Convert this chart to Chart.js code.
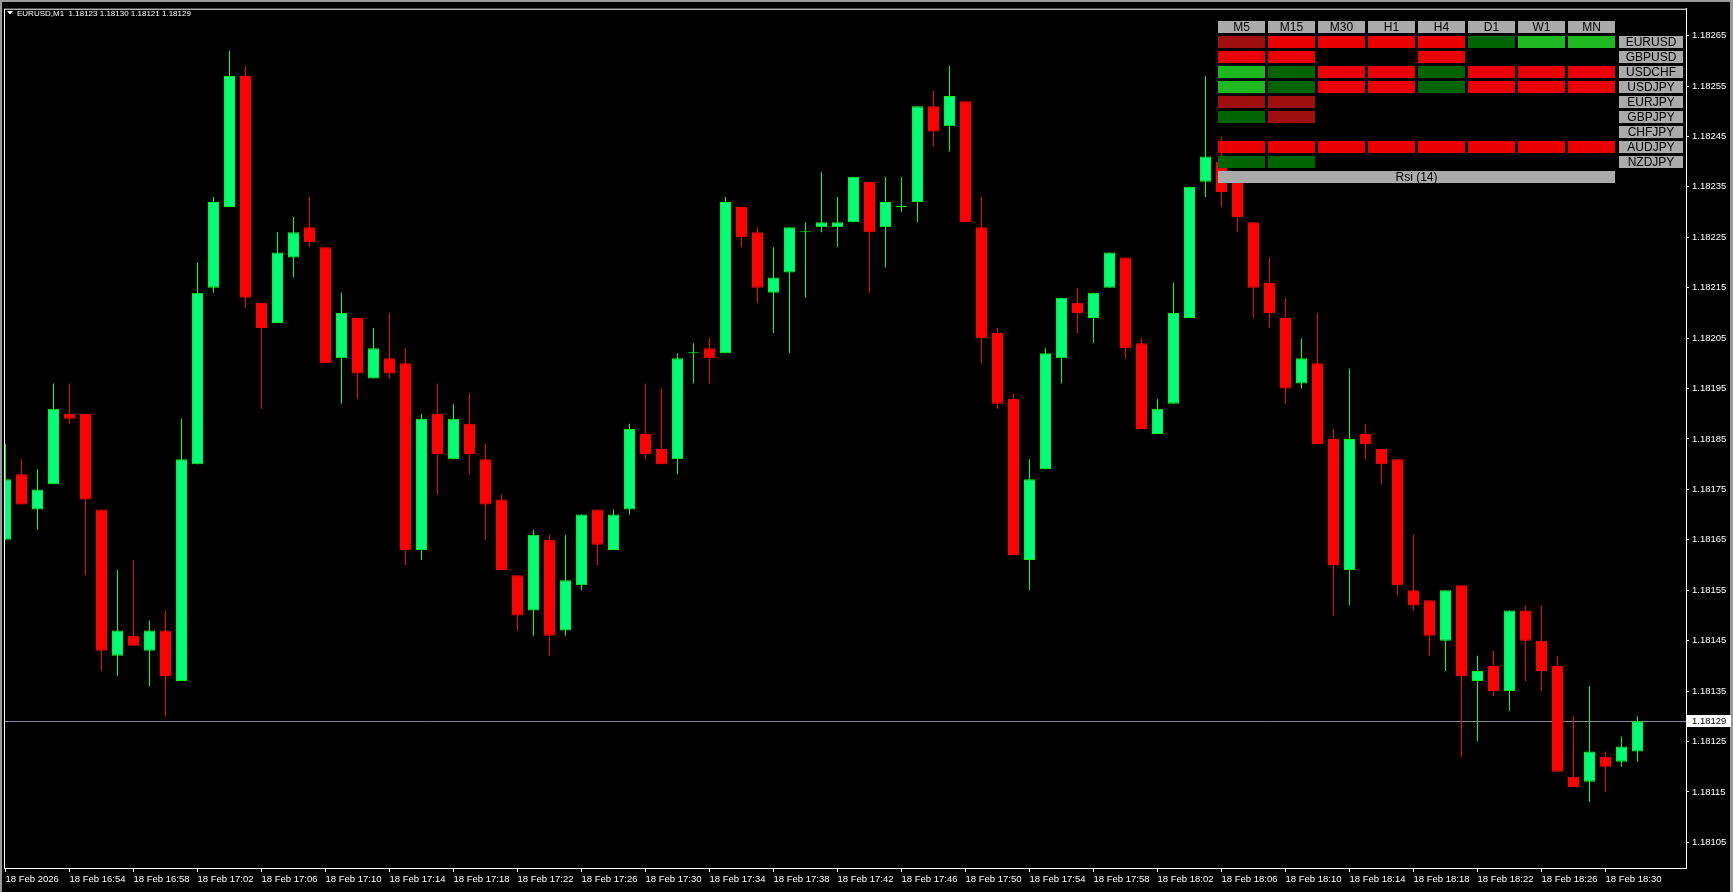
<!DOCTYPE html>
<html>
<head>
<meta charset="utf-8">
<script src="https://cdn.jsdelivr.net/npm/chart.js@4.4.1/dist/chart.umd.min.js"></script>
<style>
  html, body { margin: 0; padding: 0; background: #000; overflow: hidden; }
  canvas { display: block; }
</style>
</head>
<body>
<canvas id="chart" width="1733" height="892"></canvas>
<script>
// EURUSD M1 candles, 16:50 .. 18:32
var symbol = 'EURUSD,M1';
var opens = [
  1.18165, 1.18178, 1.18171, 1.18176, 1.18190, 1.18190, 1.18171, 1.18142, 1.18146, 1.18143,
  1.18147, 1.18137, 1.18180, 1.18215, 1.18231, 1.18257, 1.18212, 1.18208, 1.18221, 1.18227,
  1.18223, 1.18201, 1.18209, 1.18197, 1.18201, 1.18200, 1.18163, 1.18190, 1.18181, 1.18188,
  1.18181, 1.18173, 1.18158, 1.18151, 1.18165, 1.18147, 1.18156, 1.18171, 1.18163, 1.18171,
  1.18186, 1.18183, 1.18181, 1.18202, 1.18203, 1.18202, 1.18231, 1.18226, 1.18214, 1.18218,
  1.18226, 1.18227, 1.18227, 1.18228, 1.18236, 1.18227, 1.18231, 1.18232, 1.18251, 1.18247,
  1.18252, 1.18227, 1.18206, 1.18193, 1.18161, 1.18179, 1.18201, 1.18212, 1.18209, 1.18215,
  1.18221, 1.18204, 1.18186, 1.18192, 1.18209, 1.18236, 1.18240, 1.18236, 1.18228, 1.18216,
  1.18209, 1.18196, 1.18200, 1.18185, 1.18159, 1.18186, 1.18183, 1.18181, 1.18155, 1.18153,
  1.18145, 1.18156, 1.18137, 1.18140, 1.18135, 1.18151, 1.18145, 1.18140, 1.18118, 1.18117,
  1.18122, 1.18121, 1.18123
];
var highs = [
  1.18184, 1.18181, 1.18179, 1.18196, 1.18196, 1.18190, 1.18171, 1.18159, 1.18161, 1.18149,
  1.18151, 1.18189, 1.18220, 1.18233, 1.18262, 1.18259, 1.18212, 1.18226, 1.18229, 1.18233,
  1.18223, 1.18214, 1.18209, 1.18207, 1.18210, 1.18203, 1.18190, 1.18196, 1.18192, 1.18194,
  1.18184, 1.18174, 1.18158, 1.18167, 1.18166, 1.18166, 1.18170, 1.18171, 1.18171, 1.18188,
  1.18196, 1.18195, 1.18202, 1.18204, 1.18205, 1.18233, 1.18231, 1.18227, 1.18223, 1.18227,
  1.18228, 1.18238, 1.18233, 1.18237, 1.18236, 1.18237, 1.18237, 1.18251, 1.18254, 1.18259,
  1.18252, 1.18233, 1.18207, 1.18194, 1.18181, 1.18203, 1.18213, 1.18215, 1.18214, 1.18222,
  1.18221, 1.18205, 1.18193, 1.18216, 1.18235, 1.18257, 1.18245, 1.18238, 1.18228, 1.18221,
  1.18213, 1.18205, 1.18210, 1.18187, 1.18199, 1.18188, 1.18183, 1.18181, 1.18166, 1.18153,
  1.18155, 1.18156, 1.18142, 1.18143, 1.18151, 1.18152, 1.18152, 1.18142, 1.18130, 1.18136,
  1.18123, 1.18126, 1.18130
];
var lows = [
  1.18165, 1.18172, 1.18167, 1.18176, 1.18188, 1.18158, 1.18139, 1.18138, 1.18144, 1.18136,
  1.18130, 1.18137, 1.18180, 1.18214, 1.18231, 1.18211, 1.18191, 1.18208, 1.18217, 1.18223,
  1.18200, 1.18192, 1.18193, 1.18197, 1.18197, 1.18160, 1.18161, 1.18174, 1.18181, 1.18178,
  1.18165, 1.18159, 1.18147, 1.18146, 1.18142, 1.18146, 1.18155, 1.18160, 1.18163, 1.18170,
  1.18181, 1.18180, 1.18178, 1.18196, 1.18196, 1.18202, 1.18223, 1.18212, 1.18206, 1.18202,
  1.18213, 1.18226, 1.18223, 1.18228, 1.18214, 1.18219, 1.18230, 1.18228, 1.18243, 1.18242,
  1.18228, 1.18200, 1.18191, 1.18162, 1.18155, 1.18179, 1.18196, 1.18206, 1.18204, 1.18215,
  1.18201, 1.18187, 1.18186, 1.18192, 1.18209, 1.18233, 1.18231, 1.18226, 1.18209, 1.18207,
  1.18192, 1.18195, 1.18184, 1.18150, 1.18152, 1.18181, 1.18176, 1.18154, 1.18151, 1.18142,
  1.18139, 1.18122, 1.18125, 1.18134, 1.18131, 1.18137, 1.18135, 1.18119, 1.18116, 1.18113,
  1.18115, 1.18120, 1.18121
];
var closes = [
  1.18177, 1.18172, 1.18175, 1.18191, 1.18189, 1.18173, 1.18143, 1.18147, 1.18144, 1.18147,
  1.18138, 1.18181, 1.18214, 1.18232, 1.18257, 1.18213, 1.18207, 1.18222, 1.18226, 1.18224,
  1.18200, 1.18210, 1.18198, 1.18203, 1.18198, 1.18163, 1.18189, 1.18182, 1.18189, 1.18182,
  1.18172, 1.18159, 1.18150, 1.18166, 1.18146, 1.18157, 1.18170, 1.18164, 1.18170, 1.18187,
  1.18182, 1.18180, 1.18201, 1.18202, 1.18201, 1.18232, 1.18225, 1.18215, 1.18217, 1.18227,
  1.18226, 1.18228, 1.18228, 1.18237, 1.18226, 1.18232, 1.18231, 1.18251, 1.18246, 1.18253,
  1.18228, 1.18205, 1.18192, 1.18162, 1.18177, 1.18202, 1.18213, 1.18210, 1.18214, 1.18222,
  1.18203, 1.18187, 1.18191, 1.18210, 1.18235, 1.18241, 1.18234, 1.18229, 1.18215, 1.18210,
  1.18195, 1.18201, 1.18184, 1.18160, 1.18185, 1.18184, 1.18180, 1.18156, 1.18152, 1.18146,
  1.18155, 1.18138, 1.18139, 1.18135, 1.18151, 1.18145, 1.18139, 1.18119, 1.18116, 1.18123,
  1.18120, 1.18124, 1.18129
];

var xTickPos = [0, 4, 8, 12, 16, 20, 24, 28, 32, 36, 40, 44, 48, 52, 56, 60, 64, 68, 72, 76, 80, 84, 88, 92, 96, 100];
var xTickLabels = [
  '18 Feb 2026', '18 Feb 16:54', '18 Feb 16:58', '18 Feb 17:02', '18 Feb 17:06', '18 Feb 17:10',
  '18 Feb 17:14', '18 Feb 17:18', '18 Feb 17:22', '18 Feb 17:26', '18 Feb 17:30', '18 Feb 17:34',
  '18 Feb 17:38', '18 Feb 17:42', '18 Feb 17:46', '18 Feb 17:50', '18 Feb 17:54', '18 Feb 17:58',
  '18 Feb 18:02', '18 Feb 18:06', '18 Feb 18:10', '18 Feb 18:14', '18 Feb 18:18', '18 Feb 18:22',
  '18 Feb 18:26', '18 Feb 18:30'
];
var yTicks = [1.18105, 1.18115, 1.18125, 1.18135, 1.18145, 1.18155, 1.18165, 1.18175, 1.18185,
  1.18195, 1.18205, 1.18215, 1.18225, 1.18235, 1.18245, 1.18255, 1.18265];

// rsi matrix panel
var timeframes = ['M5', 'M15', 'M30', 'H1', 'H4', 'D1', 'W1', 'MN'];
var pairs = ['EURUSD', 'GBPUSD', 'USDCHF', 'USDJPY', 'EURJPY', 'GBPJPY', 'CHFJPY', 'AUDJPY', 'NZDJPY'];
var pairSignals = ['DRRRRgGG', 'RR..R...', 'GgRRgRRR', 'GgRRgRRR', 'DD......', 'gD......', '........', 'RRRRRRRR', 'gg......'];
var rsiLabel = 'Rsi (14)';

var BULL = '#00FF7F', BULL_LINE = '#00FF00', BEAR = '#FF0000';
var signalColors = { D: '#A00F0F', R: '#EB0000', G: '#20B820', g: '#006400' };
var FONT = '"Liberation Sans", Arial, sans-serif';

var last = closes.length - 1;
var isBull = closes.map(function(c, i) { return c >= opens[i]; });

var bodies = opens.map(function(o, i) { return { x: i, y: [o, closes[i]] }; });
var wicks = lows.map(function(l, i) { return { x: i, y: [l, highs[i]] }; });

var mt4Plugin = {
  id: 'mt4',
  beforeDraw: function(chart) {
    var ctx = chart.ctx;
    ctx.save();
    ctx.fillStyle = '#000';
    ctx.fillRect(0, 0, chart.width, chart.height);
    ctx.fillStyle = '#9a9a9a';
    ctx.fillRect(0, 0, chart.width, 2);
    ctx.fillRect(0, 0, 2, chart.height);
    ctx.fillRect(chart.width - 3, 0, 3, chart.height);
    ctx.restore();
  },
  beforeDatasetsDraw: function(chart) {
    var ctx = chart.ctx, a = chart.chartArea;
    var y = Math.round(chart.scales.y.getPixelForValue(closes[last])) + 0.5;
    ctx.save();
    ctx.strokeStyle = '#778899';
    ctx.lineWidth = 1;
    ctx.beginPath();
    ctx.moveTo(a.left, y);
    ctx.lineTo(a.right, y);
    ctx.stroke();
    ctx.restore();
  },
  afterDraw: function(chart) {
    var ctx = chart.ctx, a = chart.chartArea;
    ctx.save();
    // frame
    ctx.strokeStyle = '#fff';
    ctx.lineWidth = 1;
    ctx.strokeRect(a.left + 0.5, a.top + 0.5, a.right - a.left, a.bottom - a.top);

    // title
    ctx.fillStyle = '#fff';
    ctx.beginPath();
    ctx.moveTo(7, 11); ctx.lineTo(13, 11); ctx.lineTo(10, 14.5); ctx.closePath();
    ctx.fill();
    ctx.font = '8px ' + FONT;
    ctx.textBaseline = 'alphabetic';
    ctx.textAlign = 'left';
    var ohlc = [opens[last], highs[last], lows[last], closes[last]].map(function(v) { return v.toFixed(5); });
    ctx.fillText(symbol + '  ' + ohlc.join(' '), 17, 16);

    // bid price label
    var py = Math.round(chart.scales.y.getPixelForValue(closes[last]));
    ctx.fillStyle = '#fff';
    ctx.fillRect(a.right + 1, py - 6, 44, 12);
    ctx.fillStyle = '#000';
    ctx.font = '9.5px ' + FONT;
    ctx.textBaseline = 'middle';
    ctx.fillText(closes[last].toFixed(5), a.right + 6, py + 0.5);

    // rsi panel
    ctx.font = '12px ' + FONT;
    ctx.textAlign = 'center';
    ctx.textBaseline = 'middle';
    timeframes.forEach(function(tf, j) {
      var x = 1218 + 50 * j;
      ctx.fillStyle = '#AAAAAA';
      ctx.fillRect(x, 21, 47, 12);
      ctx.fillStyle = '#000';
      ctx.fillText(tf, x + 23.5, 27.5);
    });
    pairs.forEach(function(p, r) {
      var y = 36 + 15 * r;
      pairSignals[r].split('').forEach(function(s, j) {
        if (signalColors[s]) {
          ctx.fillStyle = signalColors[s];
          ctx.fillRect(1218 + 50 * j, y, 47, 12);
        }
      });
      ctx.fillStyle = '#AAAAAA';
      ctx.fillRect(1619, y, 64, 12);
      ctx.fillStyle = '#000';
      ctx.fillText(p, 1651, y + 6.5);
    });
    ctx.fillStyle = '#AAAAAA';
    ctx.fillRect(1218, 171, 397, 12);
    ctx.fillStyle = '#000';
    ctx.fillText(rsiLabel, 1416.5, 177.5);
    ctx.restore();
  }
};

var chart = new Chart(document.getElementById('chart'), {
  type: 'bar',
  data: {
    datasets: [
      {
        label: 'body',
        data: bodies,
        order: 0,
        grouped: false,
        barPercentage: 11 / 16,
        categoryPercentage: 1,
        minBarLength: 1,
        inflateAmount: 0,
        borderSkipped: false,
        borderWidth: 1,
        backgroundColor: isBull.map(function(b) { return b ? BULL : BEAR; }),
        borderColor: isBull.map(function(b) { return b ? BULL_LINE : BEAR; })
      },
      {
        label: 'wick',
        data: wicks,
        order: 1,
        grouped: false,
        barPercentage: 1 / 16,
        categoryPercentage: 1,
        inflateAmount: 0,
        borderWidth: 0,
        backgroundColor: isBull.map(function(b) { return b ? BULL_LINE : BEAR; })
      }
    ]
  },
  options: {
    responsive: false,
    animation: false,
    devicePixelRatio: 1,
    layout: { padding: { left: 4, top: 4, right: 0, bottom: 0 } },
    plugins: { legend: { display: false }, tooltip: { enabled: false } },
    scales: {
      x: {
        type: 'linear',
        offset: false,
        min: -0.09375,
        max: 105.03125,
        bounds: 'data',
        grid: { display: true, offset: false, drawOnChartArea: false, drawTicks: true, tickLength: 4, color: '#fff' },
        border: { display: true, color: '#fff' },
        ticks: {
          color: '#fff',
          font: { family: FONT, size: 9.5 },
          align: 'start',
          maxRotation: 0,
          minRotation: 0,
          autoSkip: false,
          padding: 2,
          callback: function(v, i) { return xTickLabels[i]; }
        },
        afterBuildTicks: function(s) { s.ticks = xTickPos.map(function(v) { return { value: v }; }); },
        afterFit: function(s) { s.height = 24; }
      },
      y: {
        type: 'linear',
        position: 'right',
        offset: false,
        min: 1.1809992,
        max: 1.1827033,
        bounds: 'data',
        grid: { display: true, drawOnChartArea: false, drawTicks: true, tickLength: 3, color: '#fff' },
        border: { display: true, color: '#fff' },
        ticks: {
          color: '#fff',
          font: { family: FONT, size: 9.5 },
          padding: 3,
          callback: function(v) { return v.toFixed(5); }
        },
        afterBuildTicks: function(s) { s.ticks = yTicks.map(function(v) { return { value: v }; }); },
        afterFit: function(s) { s.width = 47; }
      }
    }
  },
  plugins: [mt4Plugin]
});
</script>
</body>
</html>
